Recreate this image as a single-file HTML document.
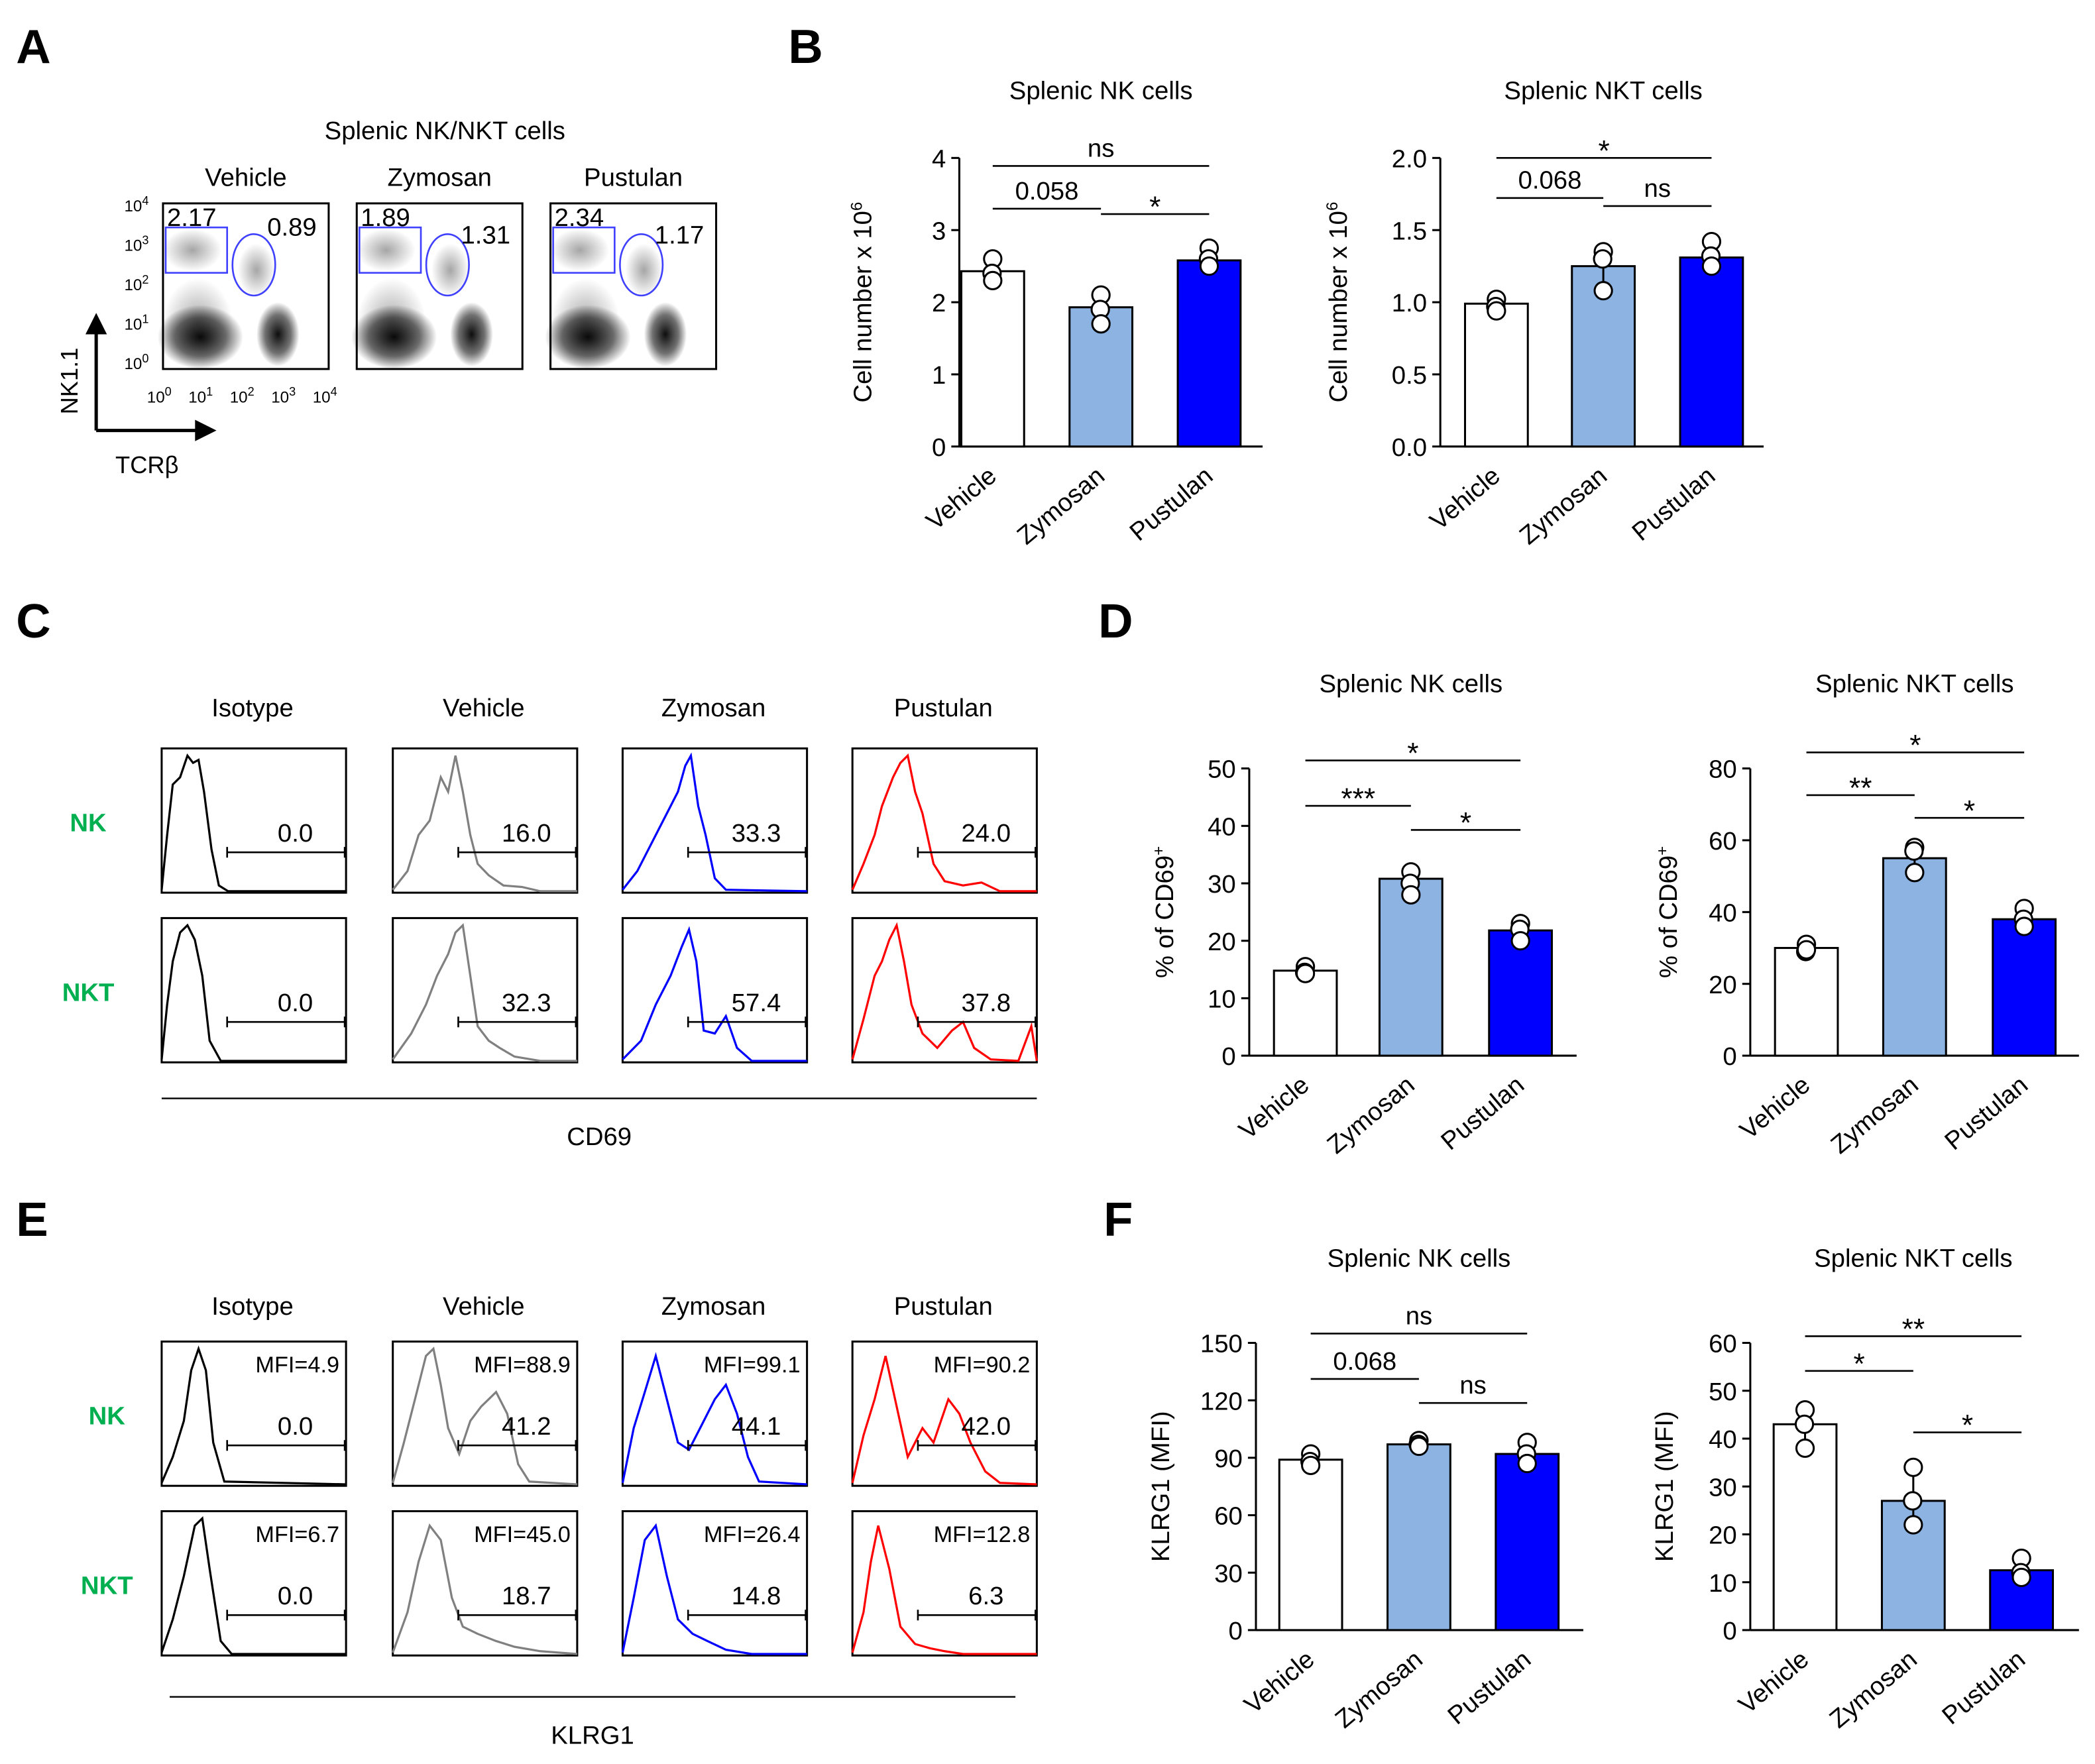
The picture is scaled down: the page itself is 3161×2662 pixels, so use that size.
<!DOCTYPE html>
<html><head><meta charset="utf-8"><style>
html,body{margin:0;padding:0;background:#fff}
svg{display:block;font-family:"Liberation Sans",Arial,sans-serif}
</style></head><body>
<svg id="fig" width="3161" height="2662" viewBox="0 0 1568 1320" xmlns="http://www.w3.org/2000/svg">
<defs>
<radialGradient id="blob"><stop offset="0" stop-color="#000" stop-opacity="0.95"/><stop offset="0.6" stop-color="#111" stop-opacity="0.6"/><stop offset="1" stop-color="#000" stop-opacity="0"/></radialGradient>
<radialGradient id="blob2"><stop offset="0" stop-color="#000" stop-opacity="0.35"/><stop offset="1" stop-color="#000" stop-opacity="0"/></radialGradient>
</defs>
<g id="root"></g>
</svg>
<script>
// ---------- data ----------
const groups = ["Vehicle","Zymosan","Pustulan"];
const barFill = ["#ffffff","#8db3e2","#0000ff"];
const nkCountMeans = [2.43,1.93,2.58];
const nkCountPts = [[2.6,2.4,2.3],[2.1,1.9,1.7],[2.75,2.6,2.5]];
const nktCountMeans = [0.99,1.25,1.31];
const nktCountPts = [[1.02,0.97,0.94],[1.35,1.3,1.08],[1.42,1.32,1.25]];
const nkCd69Means = [14.8,30.8,21.8];
const nkCd69Pts = [[15.5,14.5,14.3],[32,30,28],[23,22,20]];
const nktCd69Means = [30,55,38];
const nktCd69Pts = [[31,29,29.5],[58,57,51],[41,38,36]];
const nkKlrgMeans = [89,97,92];
const nkKlrgPts = [[92,88,86],[99,97,96],[98,92,87]];
const nktKlrgMeans = [43,27,12.5];
const nktKlrgPts = [[46,43,38],[34,27,22],[15,12,11]];
const flowGroups = ["Vehicle","Zymosan","Pustulan"];
const flowRect = ["2.17","1.89","2.34"];
const flowOval = ["0.89","1.31","1.17"];
const histCols = ["Isotype","Vehicle","Zymosan","Pustulan"];
const histColors = ["#000","#808080","#0000ff","#ff0000"];
const cd69NK = ["0.0","16.0","33.3","24.0"];
const cd69NKT = ["0.0","32.3","57.4","37.8"];
const klrgNK = ["0.0","41.2","44.1","42.0"];
const klrgNKT = ["0.0","18.7","14.8","6.3"];
const mfiNK = ["MFI=4.9","MFI=88.9","MFI=99.1","MFI=90.2"];
const mfiNKT = ["MFI=6.7","MFI=45.0","MFI=26.4","MFI=12.8"];

const NS="http://www.w3.org/2000/svg";
const root=document.getElementById('root');
function el(tag,attrs,parent,txt){const e=document.createElementNS(NS,tag);for(const k in attrs)e.setAttribute(k,attrs[k]);if(txt!==undefined)e.textContent=txt;(parent||root).appendChild(e);return e;}
function T(x,y,s,size,opts){opts=opts||{};const e=el('text',{x:x,y:y,'font-size':size,'text-anchor':opts.anchor||'middle',fill:opts.fill||'#000','font-weight':opts.bold?'bold':'normal'},opts.parent,s);if(opts.rot)e.setAttribute('transform',`rotate(${opts.rot} ${x} ${y})`);return e;}

// panel letters
[["A",12,47],["B",590,47],["C",12,477],["D",822,477],["E",12,925],["F",826,925]].forEach(p=>{
 const t=T(p[1],p[2],p[0],36,{anchor:'start',bold:true});
 
 
});

// ---------- Panel A ----------
const tA=T(333,104,"Splenic NK/NKT cells",19);

const flowX=[122,267,412];
flowGroups.forEach((g,i)=>{
 const x0=flowX[i],y0=152,w=124,h=124;
 const gg=el('g',{});
 
 
 T(x0+w/2,139,g,19,{parent:gg});
 el('rect',{x:x0,y:y0,width:w,height:h,fill:'#fff',stroke:'#000','stroke-width':1.5},gg);
 el('ellipse',{cx:x0+28,cy:y0+100,rx:32,ry:24,fill:'url(#blob)'},gg);
 el('ellipse',{cx:x0+26,cy:y0+90,rx:26,ry:34,fill:'url(#blob2)'},gg);
 el('ellipse',{cx:x0+86,cy:y0+98,rx:16,ry:24,fill:'url(#blob)'},gg);
 el('ellipse',{cx:x0+22,cy:y0+35,rx:22,ry:16,fill:'url(#blob2)'},gg);
 el('ellipse',{cx:x0+70,cy:y0+50,rx:14,ry:20,fill:'url(#blob2)'},gg);
 el('rect',{x:x0+2,y:y0+18,width:46,height:34,fill:'none',stroke:'#4040ff','stroke-width':1.3},gg);
 el('ellipse',{cx:x0+68,cy:y0+46,rx:16,ry:23,fill:'none',stroke:'#4040ff','stroke-width':1.3},gg);
 T(x0+3,y0+17,flowRect[i],19,{anchor:'start',parent:gg});
 T(x0+78,y0+(i==0?24:30),flowOval[i],19,{anchor:'start',parent:gg});
});
const yl=["4","3","2","1","0"];
yl.forEach((s,i)=>{const y=158+i*29.5;const t=T(93,y,"10",12,{anchor:'start'});el('tspan',{dy:-5,'font-size':9},t,s);});
["0","1","2","3","4"].forEach((s,i)=>{const x=110+i*31;const t=T(x,301,"10",12,{anchor:'start'});el('tspan',{dy:-5,'font-size':9},t,s);});
el('line',{x1:72,y1:322,x2:72,y2:246,stroke:'#000','stroke-width':2.5});
el('polygon',{points:"64,250 72,234 80,250",fill:'#000'});
el('line',{x1:72,y1:322,x2:148,y2:322,stroke:'#000','stroke-width':2.5});
el('polygon',{points:"146,314 162,322 146,330",fill:'#000'});
T(58,285,"NK1.1",18,{rot:-90});
T(110,354,"TCRβ",18);

// ---------- bar chart helper ----------
function barChart(o){
 const g=el('g',{});
 
 
 const sy=v=>o.y0-(v-o.min)/(o.max-o.min)*(o.y0-o.y1);
 T(o.cx[1],o.titleY,o.title,19,{parent:g});
 el('line',{x1:o.ax,y1:o.y1,x2:o.ax,y2:o.y0,stroke:'#000','stroke-width':1.5},g);
 el('line',{x1:o.ax,y1:o.y0,x2:o.axEnd,y2:o.y0,stroke:'#000','stroke-width':1.5},g);
 o.ticks.forEach((t,i)=>{const y=sy(t);el('line',{x1:o.ax-6,y1:y,x2:o.ax,y2:y,stroke:'#000','stroke-width':1.5},g);T(o.ax-10,y+7,o.tickLabels[i],19,{anchor:'end',parent:g});});
 const bw=47;
 o.means.forEach((m,i)=>{
  const cx=o.cx[i];
  const r=el('rect',{x:cx-bw/2,y:sy(m),width:bw,height:o.y0-sy(m),fill:barFill[i],stroke:'#000','stroke-width':1.5},g);
  
  
  const pts=o.pts[i];const mean=pts.reduce((a,b)=>a+b,0)/pts.length;
  const sd=Math.sqrt(pts.reduce((a,b)=>a+(b-mean)*(b-mean),0)/(pts.length-1));
  el('line',{x1:cx,y1:sy(m-sd),x2:cx,y2:sy(m+sd),stroke:'#000','stroke-width':1.5},g);
  pts.forEach((p,j)=>{const c=el('circle',{cx:cx+(j==1?-0.5:0),cy:sy(p),r:6.5,fill:'#fff',stroke:'#000','stroke-width':1.5},g);
   });
  T(cx+4,o.y0+24,groups[i],19,{anchor:'end',rot:-40,parent:g});
 });
 o.brackets.forEach(b=>{
  el('line',{x1:o.cx[b[0]],y1:b[2],x2:o.cx[b[1]],y2:b[2],stroke:'#000','stroke-width':1.3},g);
  T((o.cx[b[0]]+o.cx[b[1]])/2,b[2]-(b[3].startsWith('*')?-2:7),b[3],b[3].startsWith('*')?22:19,{parent:g});
 });
 const t=T(o.ylx,(o.y0+o.y1)/2,o.ylabel,19,{rot:-90,parent:g});
 if(o.sup){const s=el('tspan',{dy:-7,'font-size':12},t,o.sup);}
 return g;
}

barChart({name:'nk-count-chart',title:'Splenic NK cells',titleY:74,ax:718,axEnd:945,y0:334,y1:118,min:0,max:4,ticks:[0,1,2,3,4],tickLabels:["0","1","2","3","4"],means:nkCountMeans,pts:nkCountPts,cx:[743,824,905],brackets:[[0,2,124,"ns"],[0,1,156,"0.058"],[1,2,160,"*"]],ylx:652,ylabel:"Cell number   x 10",sup:"6"});
barChart({name:'nkt-count-chart',title:'Splenic NKT cells',titleY:74,ax:1078,axEnd:1320,y0:334,y1:118,min:0,max:2,ticks:[0,0.5,1,1.5,2],tickLabels:["0.0","0.5","1.0","1.5","2.0"],means:nktCountMeans,pts:nktCountPts,cx:[1120,1200,1281],brackets:[[0,2,118,"*"],[0,1,148,"0.068"],[1,2,154,"ns"]],ylx:1008,ylabel:"Cell number   x 10",sup:"6"});
barChart({name:'nk-cd69-chart',title:'Splenic NK cells',titleY:518,ax:935,axEnd:1180,y0:790,y1:575,min:0,max:50,ticks:[0,10,20,30,40,50],tickLabels:["0","10","20","30","40","50"],means:nkCd69Means,pts:nkCd69Pts,cx:[977,1056,1138],brackets:[[0,2,569,"*"],[0,1,603,"***"],[1,2,621,"*"]],ylx:878,ylabel:"% of CD69",sup:"+"});
barChart({name:'nkt-cd69-chart',title:'Splenic NKT cells',titleY:518,ax:1310,axEnd:1556,y0:790,y1:575,min:0,max:80,ticks:[0,20,40,60,80],tickLabels:["0","20","40","60","80"],means:nktCd69Means,pts:nktCd69Pts,cx:[1352,1433,1515],brackets:[[0,2,563,"*"],[0,1,595,"**"],[1,2,612,"*"]],ylx:1255,ylabel:"% of CD69",sup:"+"});
barChart({name:'nk-klrg1-chart',title:'Splenic NK cells',titleY:948,ax:940,axEnd:1185,y0:1220,y1:1005,min:0,max:150,ticks:[0,30,60,90,120,150],tickLabels:["0","30","60","90","120","150"],means:nkKlrgMeans,pts:nkKlrgPts,cx:[981,1062,1143],brackets:[[0,2,998,"ns"],[0,1,1032,"0.068"],[1,2,1050,"ns"]],ylx:875,ylabel:"KLRG1 (MFI)"});
barChart({name:'nkt-klrg1-chart',title:'Splenic NKT cells',titleY:948,ax:1310,axEnd:1556,y0:1220,y1:1005,min:0,max:60,ticks:[0,10,20,30,40,50,60],tickLabels:["0","10","20","30","40","50","60"],means:nktKlrgMeans,pts:nktKlrgPts,cx:[1351,1432,1513],brackets:[[0,2,1000,"**"],[0,1,1026,"*"],[1,2,1072,"*"]],ylx:1252,ylabel:"KLRG1 (MFI)"});

// ---------- histograms ----------
const shapeCD69 = [
 [[0,.98],[.03,.6],[.06,.25],[.1,.2],[.14,.05],[.17,.1],[.2,.08],[.23,.3],[.27,.7],[.31,.95],[.36,.99],[1,.99]],
 [[0,.98],[.08,.85],[.14,.6],[.2,.5],[.26,.2],[.3,.3],[.34,.05],[.38,.3],[.42,.6],[.46,.8],[.52,.88],[.6,.95],[.7,.96],[.8,.99],[1,.99]],
 [[0,.98],[.08,.85],[.14,.7],[.2,.55],[.26,.4],[.3,.3],[.34,.12],[.37,.05],[.41,.4],[.45,.6],[.5,.9],[.56,.98],[1,.99]],
 [[0,.98],[.06,.8],[.12,.6],[.16,.4],[.22,.2],[.26,.1],[.3,.05],[.34,.3],[.38,.45],[.44,.8],[.5,.92],[.6,.95],[.7,.93],[.8,.99],[1,.99]]];
const shapeCD69b = [
 [[0,.98],[.03,.6],[.06,.3],[.1,.1],[.14,.05],[.18,.15],[.22,.4],[.26,.85],[.32,.99],[1,.99]],
 [[0,.98],[.1,.8],[.18,.6],[.24,.4],[.3,.25],[.34,.1],[.38,.05],[.42,.4],[.46,.75],[.52,.85],[.58,.9],[.66,.96],[.8,.99],[1,.99]],
 [[0,.98],[.1,.85],[.18,.6],[.26,.4],[.32,.2],[.36,.08],[.4,.3],[.44,.78],[.5,.8],[.56,.68],[.62,.9],[.7,.99],[1,.99]],
 [[0,.98],[.06,.7],[.12,.4],[.16,.3],[.2,.15],[.24,.05],[.28,.3],[.32,.6],[.38,.8],[.46,.9],[.54,.78],[.6,.72],[.66,.9],[.75,.98],[.9,.99],[.97,.75],[1,.99]]];
const shapeKLRG = [
 [[0,.98],[.06,.8],[.12,.55],[.16,.2],[.2,.05],[.24,.2],[.28,.7],[.34,.97],[1,.99]],
 [[0,.98],[.06,.7],[.12,.4],[.18,.1],[.22,.05],[.26,.3],[.3,.6],[.36,.78],[.42,.55],[.48,.45],[.56,.35],[.62,.5],[.68,.85],[.74,.97],[1,.99]],
 [[0,.98],[.06,.6],[.12,.35],[.18,.1],[.24,.4],[.3,.7],[.36,.75],[.42,.6],[.5,.4],[.56,.3],[.62,.5],[.68,.8],[.74,.97],[1,.99]],
 [[0,.98],[.06,.65],[.12,.4],[.18,.1],[.24,.45],[.3,.8],[.38,.6],[.44,.7],[.52,.4],[.58,.5],[.64,.7],[.72,.9],[.8,.98],[1,.99]]];
const shapeKLRGb = [
 [[0,.98],[.06,.75],[.12,.45],[.18,.1],[.22,.05],[.26,.4],[.32,.9],[.38,.99],[1,.99]],
 [[0,.98],[.08,.7],[.14,.35],[.2,.1],[.26,.2],[.32,.6],[.38,.8],[.46,.85],[.56,.9],[.66,.94],[.8,.97],[1,.99]],
 [[0,.98],[.06,.6],[.12,.2],[.18,.1],[.24,.45],[.3,.75],[.38,.85],[.46,.9],[.56,.96],[.7,.99],[1,.99]],
 [[0,.98],[.06,.7],[.1,.35],[.14,.1],[.2,.4],[.26,.8],[.34,.92],[.42,.95],[.5,.97],[.6,.99],[1,.99]]];

const histX=[121,294,466,638];
function histPanel(name,titleY,rows,labels,rowLabelX,valsArr,mfiArr,shapes,axisY,axisLabel,axisX0,axisX1){
 const g=el('g',{});
 
 
 histCols.forEach((c,i)=>T(histX[i]+68,titleY,c,19,{parent:g}));
 rows.forEach((ry,r)=>{
  T(rowLabelX,ry+62,labels[r],19,{fill:'#00b050',bold:true,parent:g});
  histX.forEach((x0,i)=>{
   const w=138,h=108;
   el('rect',{x:x0,y:ry,width:w,height:h,fill:'#fff',stroke:'#000','stroke-width':1.5},g);
   const p=shapes[r][i].map(q=>(x0+q[0]*w).toFixed(1)+','+(ry+q[1]*h).toFixed(1)).join(' ');
   const pl=el('polyline',{points:p,fill:'none',stroke:histColors[i],'stroke-width':1.6},g);
   
   
   const gy=ry+h*0.72;
   el('line',{x1:x0+49,y1:gy,x2:x0+137,y2:gy,stroke:'#000','stroke-width':1.3},g);
   el('line',{x1:x0+49,y1:gy-4,x2:x0+49,y2:gy+4,stroke:'#000','stroke-width':1.3},g);
   el('line',{x1:x0+137,y1:gy-4,x2:x0+137,y2:gy+4,stroke:'#000','stroke-width':1.3},g);
   T(x0+100,gy-8,valsArr[r][i],19,{parent:g});
   if(mfiArr) T(x0+133,ry+23,mfiArr[r][i],17,{anchor:'end',parent:g});
  });
 });
 el('line',{x1:axisX0,y1:axisY,x2:axisX1,y2:axisY,stroke:'#000','stroke-width':1.2},g);
 T((axisX0+axisX1)/2,axisY+35,axisLabel,19,{parent:g});
}
histPanel('cd69-histograms',536,[560,687],["NK","NKT"],66,[cd69NK,cd69NKT],null,[shapeCD69,shapeCD69b],822,"CD69",121,776);
histPanel('klrg1-histograms',984,[1004,1131],["NK","NKT"],80,[klrgNK,klrgNKT],[mfiNK,mfiNKT],[shapeKLRG,shapeKLRGb],1270,"KLRG1",127,760);
</script>
</body></html>
